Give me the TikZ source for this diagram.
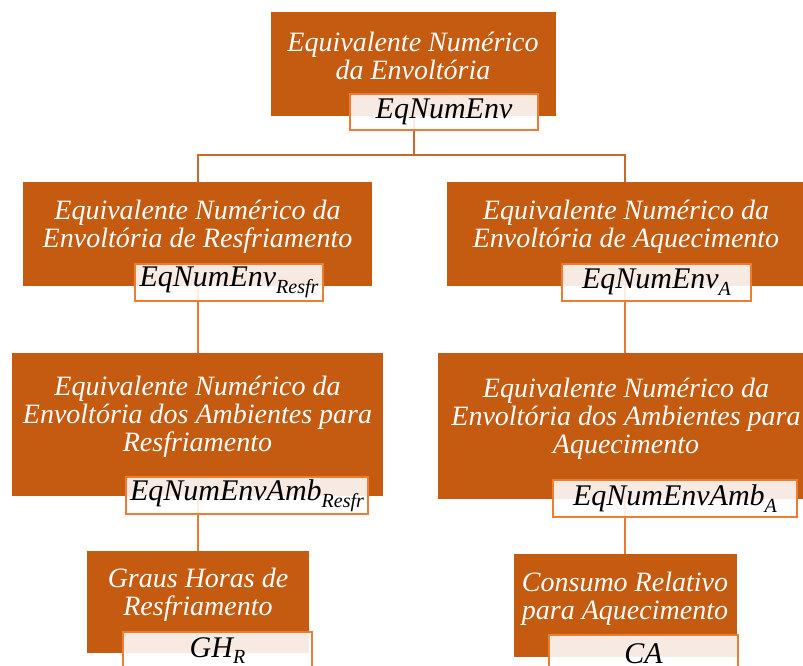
\documentclass[tikz,border=0pt]{standalone}
\usepackage{fontspec}
\setmainfont{Liberation Serif}
\pgfdeclarelayer{background}
\pgfsetlayers{background,main}
\definecolor{boxc}{HTML}{C55A11}
\definecolor{labc}{HTML}{ED7D31}
\definecolor{conA}{HTML}{C8682E}
\definecolor{conB}{HTML}{E8792F}
\begin{document}
\begin{tikzpicture}[x=0.75pt,y=-0.75pt,
  boxnode/.style={fill=boxc, draw=none, inner sep=0pt, outer sep=0pt},
  labnode/.style={fill=white, fill opacity=0.88, text opacity=1, draw=labc, line width=1.2pt, inner sep=0pt, outer sep=0pt, text=black, font=\fontsize{22.5}{24}\selectfont\itshape},
  txt/.style={text=white, align=center, inner sep=0pt, font=\fontsize{21}{21}\selectfont\itshape},
  linkA/.style={draw=conA, line width=1.5pt},
  linkB/.style={draw=conB, line width=1.5pt}]
\useasboundingbox (0,0) rectangle (803,666);
\clip (0,0) rectangle (803,666);
\newcommand{\sbs}[1]{\raisebox{-5pt}{\fontsize{15}{15}\selectfont #1}}

% boxes
\node[boxnode, minimum width=213.75pt, minimum height=78pt] (B1) at (413.5,64) {};
\node[boxnode, minimum width=261.75pt, minimum height=78pt] (B2) at (197.5,234) {};
\node[boxnode, minimum width=267pt, minimum height=78pt] (B3) at (625,234) {};
\node[boxnode, minimum width=278.25pt, minimum height=107.25pt] (B4) at (197.5,424.5) {};
\node[boxnode, minimum width=166.5pt, minimum height=76.5pt] (B5) at (198,602) {};
\node[boxnode, minimum width=280.5pt, minimum height=109.5pt] (B6) at (625,426) {};
\node[boxnode, minimum width=167.25pt, minimum height=77.25pt] (B7) at (625.5,605.5) {};

% box texts
\node[txt] (T1) at (413,56) {Equivalente Numérico\\da Envoltória};
\node[txt] (T2) at (197.5,227) {Equivalente Numérico da\\Envoltória de Resfriamento};
\node[txt] (T3) at (626,227) {Equivalente Numérico da\\Envoltória de Aquecimento};
\node[txt] (T4) at (197.5,417) {Equivalente Numérico da\\Envoltória dos Ambientes para\\Resfriamento};
\node[txt] (T5) at (198,595) {Graus Horas de\\Resfriamento};
\node[txt] (T6) at (626,419) {Equivalente Numérico da\\Envoltória dos Ambientes para\\Aquecimento};
\node[txt] (T7) at (625,599) {Consumo Relativo\\para Aquecimento};

% labels
\node[labnode, minimum width=141pt, minimum height=27pt] (L1) at (444,112) {EqNumEnv};
\node[labnode, minimum width=141pt, minimum height=27.75pt] (L2) at (229,282.5) {EqNumEnv\sbs{Resfr}};
\node[labnode, minimum width=141.75pt, minimum height=27.75pt] (L3) at (656.5,282.5) {EqNumEnv\sbs{A}};
\node[labnode, minimum width=181.5pt, minimum height=27.75pt] (L4) at (247,495.5) {EqNumEnvAmb\sbs{Resfr}};
\node[labnode, minimum width=141.75pt, minimum height=27.75pt] (L5) at (217.5,650.5) {GH\sbs{R}};
\node[labnode, minimum width=183pt, minimum height=27.75pt] (L6) at (675,498.5) {EqNumEnvAmb\sbs{A}};
\node[labnode, minimum width=141.75pt, minimum height=27.75pt] (L7) at (643.5,653.5) {CA};

\coordinate (J) at (413.5,155);
\begin{pgfonlayer}{background}
\draw[linkA] (B1.south) -- (J);
\draw[linkA] (B2.north) |- (J) -| (B3.north);
\draw[linkB] (B2.south) -- (B4.north);
\draw[linkB] (B4.south) -- (B4.south |- B5.north);
\draw[linkB] (B3.south) -- (B6.north);
\draw[linkB] (B6.south) -- (B6.south |- B7.north);
\end{pgfonlayer}
\end{tikzpicture}
\end{document}
